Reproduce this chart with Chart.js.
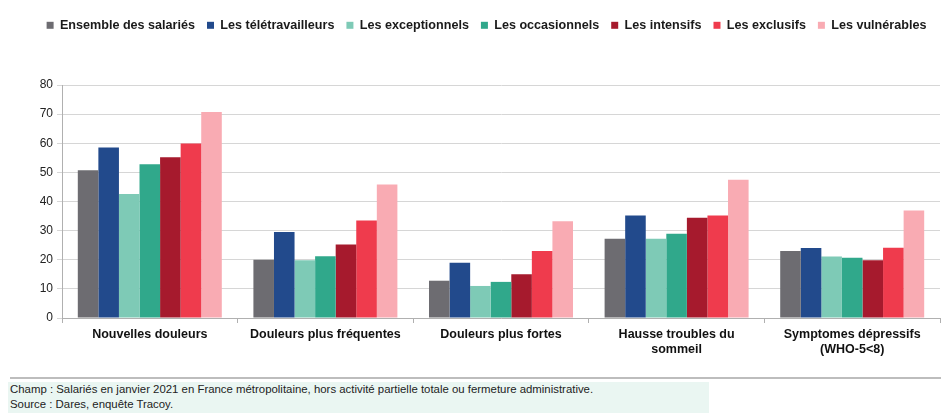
<!DOCTYPE html>
<html lang="fr">
<head>
    <meta charset="UTF-8">
    <title>Douleurs et troubles selon le profil de télétravail</title>
    <script src="https://cdn.jsdelivr.net/npm/chart.js"></script>
    <style>
        body {
            margin: 0;
            background: #fff;
            font-family: "Liberation Sans", Arial, sans-serif;
        }
        #chart-container {
            position: absolute;
            left: 0;
            top: 0;
            width: 941px;
            height: 360px;
        }
        .separator {
            position: absolute;
            left: 10px;
            top: 377px;
            width: 931px;
            height: 2px;
            background: #bdbdbd;
        }
        .note {
            position: absolute;
            left: 8px;
            top: 382px;
            width: 699px;
            height: 31px;
            background: #eaf6f2;
            font-family: "Liberation Sans Narrow", "Arial Narrow", sans-serif;
            font-size: 11.4px;
            color: #222;
            line-height: 15px;
            padding-left: 2px;
        }
    </style>
</head>
<body>
    <div id="chart-container">
        <canvas id="chart"></canvas>
    </div>
    <div class="separator"></div>
    <div class="note">
        Champ : Salariés en janvier 2021 en France métropolitaine, hors activité partielle totale ou fermeture administrative.<br>
        Source : Dares, enquête Tracoy.
    </div>

    <script>
        const categories = [
            'Nouvelles douleurs',
            'Douleurs plus fréquentes',
            'Douleurs plus fortes',
            ['Hausse troubles du', 'sommeil'],
            ['Symptomes dépressifs', '(WHO-5<8)']
        ];
        const seriesNames = [
            'Ensemble des salariés',
            'Les télétravailleurs',
            'Les exceptionnels',
            'Les occasionnels',
            'Les intensifs',
            'Les exclusifs',
            'Les vulnérables'
        ];
        const ensemble = [50.7, 20, 12.8, 27.2, 23];
        const teletravailleurs = [58.5, 29.5, 19, 35.2, 24];
        const exceptionnels = [42.6, 19.8, 11, 27.2, 21.1];
        const occasionnels = [52.8, 21.2, 12.4, 28.9, 20.7];
        const intensifs = [55.2, 25.2, 15, 34.4, 19.8];
        const exclusifs = [59.9, 33.5, 23, 35.2, 24.1];
        const vulnerables = [70.7, 45.8, 33.2, 47.5, 36.9];
        const yTicks = [0, 10, 20, 30, 40, 50, 60, 70, 80];

        const colors = ['#6d6c71', '#224a8c', '#7ecab6', '#30a88b', '#a61a2d', '#ef3b4d', '#f9abb3'];
        const values = [ensemble, teletravailleurs, exceptionnels, occasionnels, intensifs, exclusifs, vulnerables];

        // fixe la hauteur de la légende et la décale un peu vers la droite
        const legendPlace = {
            id: 'legendPlace',
            beforeInit(chart) {
                const fit = chart.legend.fit;
                chart.legend.fit = function () {
                    fit.bind(chart.legend)();
                    this.height = 78;
                };
            },
            afterLayout(chart) {
                chart.legend.left += 33;
            }
        };

        const ctx = document.getElementById('chart').getContext('2d');
        new Chart(ctx, {
            type: 'bar',
            data: {
                labels: categories,
                datasets: seriesNames.map((name, i) => ({
                    label: name,
                    data: values[i],
                    backgroundColor: colors[i],
                    borderWidth: 0,
                    categoryPercentage: 0.82,
                    barPercentage: 1
                }))
            },
            options: {
                responsive: true,
                maintainAspectRatio: false,
                animation: false,
                layout: { padding: { left: 0, right: 1, top: 7, bottom: 0 } },
                plugins: {
                    legend: {
                        position: 'top',
                        labels: {
                            boxWidth: 7,
                            boxHeight: 7,
                            padding: 12,
                            color: '#1a1a1a',
                            font: { family: 'Liberation Sans', size: 12.6, weight: 'bold' }
                        }
                    },
                    tooltip: { enabled: false }
                },
                scales: {
                    x: {
                        grid: {
                            offset: true,
                            drawOnChartArea: false,
                            tickLength: 5,
                            color: '#b0b0b0'
                        },
                        border: { color: '#b0b0b0' },
                        ticks: {
                            color: '#111',
                            maxRotation: 0,
                            padding: 4,
                            font: { family: 'Liberation Sans', size: 12.5, weight: 'bold' }
                        },
                        afterFit(scale) { scale.height = 42; }
                    },
                    y: {
                        min: 0,
                        max: 80,
                        afterBuildTicks(scale) {
                            scale.ticks = yTicks.map(v => ({ value: v }));
                        },
                        grid: {
                            color: '#d6d6d6',
                            tickLength: 5
                        },
                        border: { color: '#b0b0b0' },
                        ticks: {
                            color: '#222',
                            padding: 4,
                            font: { family: 'Liberation Sans', size: 12 }
                        },
                        afterFit(scale) { scale.width = 62; }
                    }
                }
            },
            plugins: [legendPlace]
        });
    </script>
</body>
</html>
